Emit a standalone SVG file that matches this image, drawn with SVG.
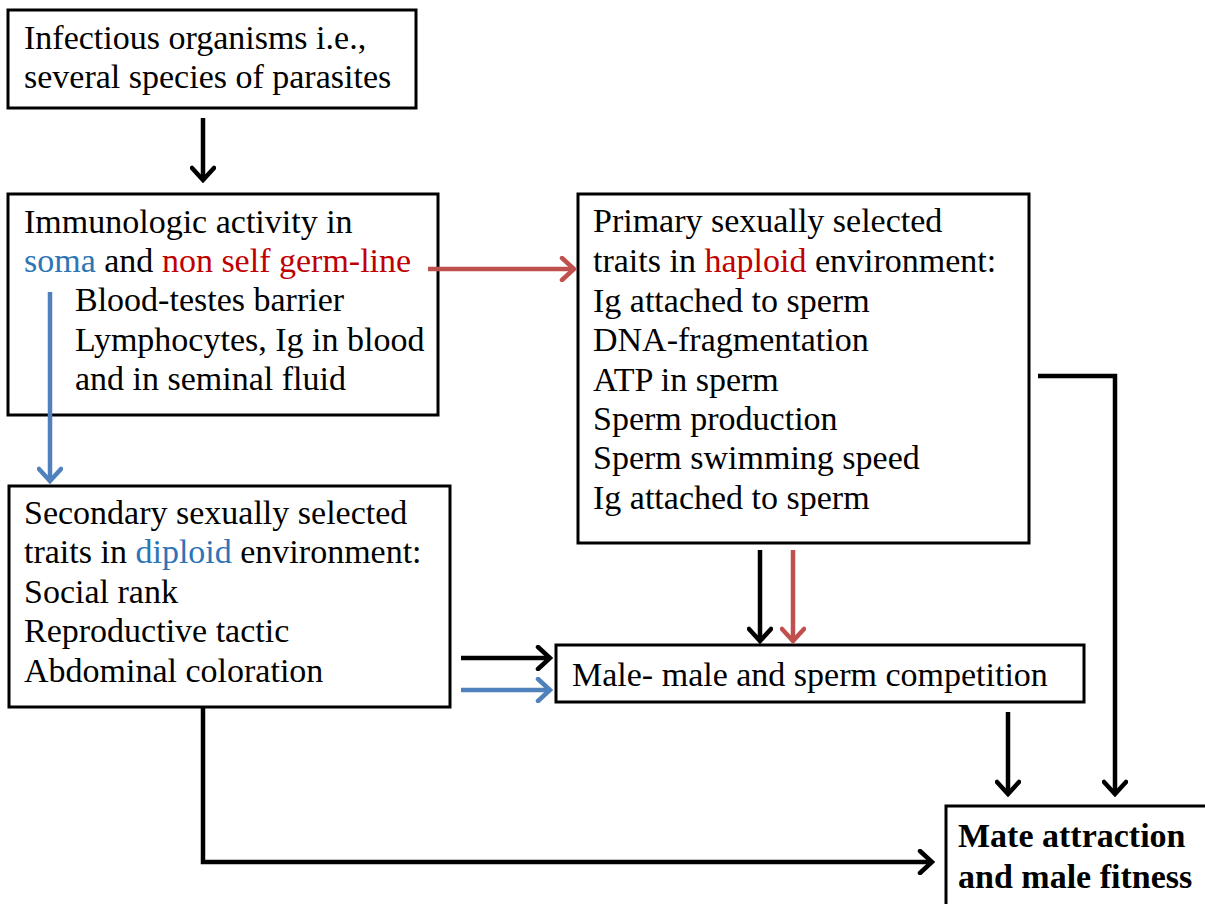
<svg xmlns="http://www.w3.org/2000/svg" width="1205" height="904" viewBox="0 0 1205 904">
<style>
.box{fill:#fff;stroke:#000;stroke-width:3}
.t{font-family:"Liberation Serif","Times New Roman",serif;font-size:34px;fill:#000}
.b{font-weight:bold}
.blue{fill:#2e75b6}
.red{fill:#c00000}
.con{fill:none;stroke-width:4.5;stroke-linejoin:miter}
.k{stroke:#000}
.r{stroke:#c0504d}
.u{stroke:#4f81bd}
</style>
<defs>
<marker id="ak" markerUnits="userSpaceOnUse" viewBox="0 0 18 26" refX="15" refY="13" markerWidth="18" markerHeight="26" orient="auto">
<path d="M3,2 L15,13 L3,24" fill="none" stroke="#000" stroke-width="4.5" stroke-linecap="round"/>
</marker>
<marker id="ar" markerUnits="userSpaceOnUse" viewBox="0 0 18 26" refX="15" refY="13" markerWidth="18" markerHeight="26" orient="auto">
<path d="M3,2 L15,13 L3,24" fill="none" stroke="#c0504d" stroke-width="4.5" stroke-linecap="round"/>
</marker>
<marker id="au" markerUnits="userSpaceOnUse" viewBox="0 0 18 26" refX="15" refY="13" markerWidth="18" markerHeight="26" orient="auto">
<path d="M3,2 L15,13 L3,24" fill="none" stroke="#4f81bd" stroke-width="4.5" stroke-linecap="round"/>
</marker>
</defs>

<g id="n1">
<rect class="box" x="8" y="10" width="408" height="98"/>
<text class="t" x="24" y="49">Infectious organisms i.e.,</text>
<text class="t" x="24" y="88">several species of parasites</text>
</g>

<g id="n2">
<rect class="box" x="8" y="194" width="430" height="221"/>
<text class="t" x="24" y="233">Immunologic activity in</text>
<text class="t" x="24" y="272"><tspan class="blue">soma</tspan> and <tspan class="red">non self germ-line</tspan></text>
<text class="t" x="75" y="311">Blood-testes barrier</text>
<text class="t" x="75" y="351">Lymphocytes, Ig in blood</text>
<text class="t" x="75" y="390">and in seminal fluid</text>
</g>

<g id="n3">
<rect class="box" x="578" y="194" width="451" height="349"/>
<text class="t" x="593" y="232">Primary sexually selected</text>
<text class="t" x="593" y="272">traits in <tspan class="red">haploid</tspan> environment:</text>
<text class="t" x="593" y="312">Ig attached to sperm</text>
<text class="t" x="593" y="351">DNA-fragmentation</text>
<text class="t" x="593" y="391">ATP in sperm</text>
<text class="t" x="593" y="430">Sperm production</text>
<text class="t" x="593" y="469">Sperm swimming speed</text>
<text class="t" x="593" y="509">Ig attached to sperm</text>
</g>

<g id="n4">
<rect class="box" x="9" y="486" width="441" height="221"/>
<text class="t" x="24" y="524">Secondary sexually selected</text>
<text class="t" x="24" y="563">traits in <tspan class="blue">diploid</tspan> environment:</text>
<text class="t" x="24" y="603">Social rank</text>
<text class="t" x="24" y="642">Reproductive tactic</text>
<text class="t" x="24" y="682">Abdominal coloration</text>
</g>

<g id="n5">
<rect class="box" x="556" y="645" width="528" height="57"/>
<text class="t" x="572" y="686">Male- male and sperm competition</text>
</g>

<g id="n6">
<rect class="box" x="946" y="806" width="270" height="110"/>
<text class="t b" x="958" y="847">Mate attraction</text>
<text class="t b" x="958" y="888">and male fitness</text>
</g>

<g id="connectors">
<path class="con k" d="M203,118 L203,180" marker-end="url(#ak)"/>
<path class="con u" d="M50,292 L50,481" marker-end="url(#au)"/>
<path class="con r" d="M428,269 L574,269" marker-end="url(#ar)"/>
<path class="con k" d="M760,550 L760,641" marker-end="url(#ak)"/>
<path class="con r" d="M793,550 L793,641" marker-end="url(#ar)"/>
<path class="con k" d="M461,658 L550,658" marker-end="url(#ak)"/>
<path class="con u" d="M461,690 L550,690" marker-end="url(#au)"/>
<path class="con k" d="M1008,712 L1008,794" marker-end="url(#ak)"/>
<path class="con k" d="M1038,376 L1115,376 L1115,794" marker-end="url(#ak)"/>
<path class="con k" d="M203,708 L203,862 L932,862" marker-end="url(#ak)"/>
</g>
</svg>
